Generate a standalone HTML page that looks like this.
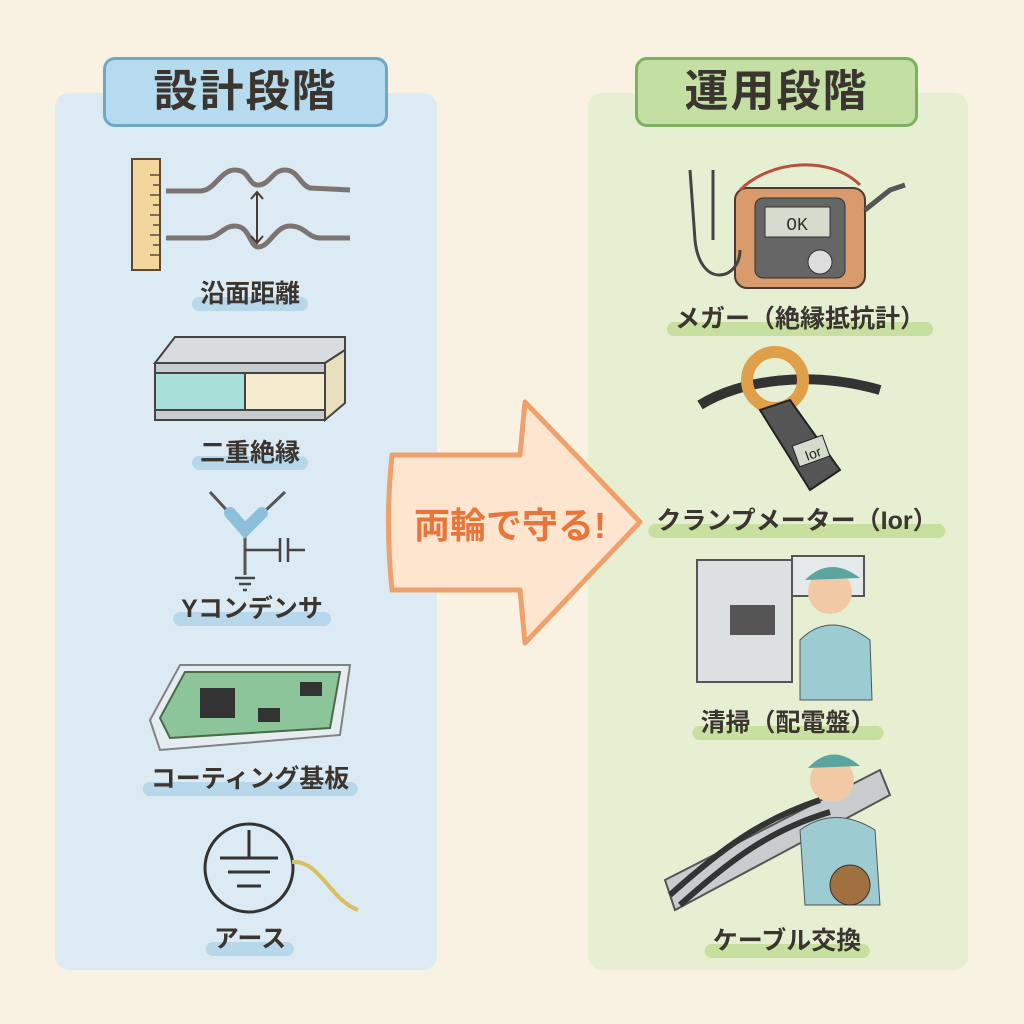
<!DOCTYPE html>
<html><head><meta charset="utf-8"><style>
body{margin:0;width:1024px;height:1024px;background:#f9f1e1;position:relative;overflow:hidden;font-family:"Liberation Sans","Noto Sans CJK JP",sans-serif;}
.panel{position:absolute;top:93px;height:877px;border-radius:14px;}
.hdr{position:absolute;top:57px;height:70px;border-radius:12px;border:3px solid;box-sizing:border-box;text-align:center;line-height:64px;font-size:44px;font-weight:bold;color:#3b3530;letter-spacing:2px;}
.lab{position:absolute;transform:translateX(-50%);font-size:25px;font-weight:bold;color:#3b3530;white-space:nowrap;padding:0 8px;line-height:30px;}
.lab:after{content:"";position:absolute;left:0;right:0;bottom:-2px;height:14px;border-radius:7px;z-index:-1;}
.b:after{background:#b7d7ea;}
.g:after{background:#c7df9f;}
svg{position:absolute;left:0;top:0;}
</style></head><body>
<div class="panel" style="left:55px;width:382px;background:#dcebf3"></div>
<div class="panel" style="left:588px;width:380px;background:#e7efd3"></div>
<div class="hdr" style="left:103px;width:285px;background:#b6daee;border-color:#6fa7c7">設計段階</div>
<div class="hdr" style="left:635px;width:283px;background:#c3dfa3;border-color:#7db061">運用段階</div>

<svg width="1024" height="1024" viewBox="0 0 1024 1024">
<!-- ruler -->
<rect x="132" y="159" width="28" height="111" fill="#f3d69c" stroke="#5a4a3a" stroke-width="2"/>
<g stroke="#5a4a3a" stroke-width="1.5"><line x1="150" y1="175" x2="160" y2="175"/><line x1="153" y1="185" x2="160" y2="185"/><line x1="150" y1="195" x2="160" y2="195"/><line x1="153" y1="205" x2="160" y2="205"/><line x1="150" y1="215" x2="160" y2="215"/><line x1="153" y1="225" x2="160" y2="225"/><line x1="150" y1="235" x2="160" y2="235"/><line x1="153" y1="245" x2="160" y2="245"/><line x1="150" y1="255" x2="160" y2="255"/></g>
<path d="M166 191 L200 191 C215 191 220 170 235 170 C250 170 248 185 258 185 C270 185 272 170 285 170 C298 170 300 185 310 188 L350 190" fill="none" stroke="#7c7470" stroke-width="5"/>
<path d="M166 238 L205 238 C220 238 222 226 235 226 C250 226 250 247 258 247 C270 247 275 226 290 226 C305 226 308 238 320 238 L350 238" fill="none" stroke="#7c7470" stroke-width="5"/>
<path d="M257 192 L257 243 M251 199 L257 192 263 199 M251 236 L257 243 263 236" stroke="#4a3a30" stroke-width="2" fill="none"/>
<!-- double insulation -->
<polygon points="155,363 175,337 345,337 345,350 325,363" fill="#d9dcdf" stroke="#444" stroke-width="2"/>
<rect x="155" y="363" width="170" height="10" fill="#c8cbce" stroke="#444" stroke-width="2"/>
<rect x="155" y="373" width="90" height="37" fill="#a9dfd9" stroke="#444" stroke-width="2"/>
<rect x="245" y="373" width="80" height="37" fill="#f5ecd0" stroke="#444" stroke-width="2"/>
<rect x="155" y="410" width="170" height="10" fill="#c8cbce" stroke="#444" stroke-width="2"/>
<polygon points="325,363 345,350 345,403 325,420" fill="#e8dfbf" stroke="#444" stroke-width="2"/>
<!-- Y capacitor -->
<path d="M210 492 L245 530 L285 492 M245 530 L245 575" stroke="#555" stroke-width="3" fill="none"/>
<path d="M230 513 L245 530 L262 513" stroke="#8cbfd9" stroke-width="12" fill="none" stroke-linecap="round"/>
<path d="M245 550 L280 550 M280 538 L280 562 M288 538 L288 562 M288 550 L305 550 M235 578 L255 578 M239 584 L251 584 M243 590 L247 590" stroke="#444" stroke-width="2.5" fill="none"/>
<!-- PCB -->
<polygon points="150,720 180,665 350,665 340,735 160,750" fill="#e6eef0" stroke="#777" stroke-width="2" opacity=".9"/>
<polygon points="160,718 185,672 340,672 330,728 170,738" fill="#8cc59a" stroke="#4a6a4a" stroke-width="2"/>
<rect x="200" y="688" width="35" height="30" fill="#333"/>
<rect x="258" y="708" width="22" height="14" fill="#333"/><rect x="300" y="682" width="22" height="14" fill="#333"/>
<!-- earth -->
<circle cx="249" cy="868" r="44" fill="none" stroke="#333" stroke-width="3"/>
<path d="M249 830 L249 858 M220 858 L278 858 M228 872 L270 872 M237 886 L261 886" stroke="#333" stroke-width="3"/>
<path d="M292 862 C320 860 330 900 358 910" stroke="#d8c060" stroke-width="4" fill="none"/>

<!-- arrow -->
<path d="M392 455 L520 455 L525 402 L640 522 L525 643 L520 590 L392 590 Q385 522 392 455 Z" fill="#fde5cf" stroke="#f0a06a" stroke-width="5" stroke-linejoin="round"/>
<text x="510" y="538" font-size="36" font-weight="bold" fill="#e8763a" text-anchor="middle" font-family="Liberation Sans, Noto Sans CJK JP, sans-serif">両輪で守る!</text>

<!-- megger -->
<rect x="735" y="188" width="130" height="100" rx="12" fill="#d99a6c" stroke="#4a3a30" stroke-width="2"/>
<rect x="755" y="198" width="90" height="80" rx="8" fill="#666" stroke="#333"/>
<rect x="765" y="207" width="65" height="30" fill="#d6dccd" stroke="#333"/>
<text x="797" y="230" font-size="18" text-anchor="middle" fill="#333" font-family="Liberation Mono, monospace">OK</text>
<circle cx="820" cy="262" r="12" fill="#ddd" stroke="#333"/>
<path d="M865 210 L890 190 L905 185" stroke="#555" stroke-width="5" fill="none"/>
<path d="M690 170 L695 240 C700 290 740 280 740 250 M713 170 L713 240" stroke="#444" stroke-width="3" fill="none"/>
<path d="M740 190 C770 160 830 155 860 185" stroke="#b85040" stroke-width="3" fill="none"/>
<!-- clamp meter -->
<path d="M700 405 C740 380 810 370 880 390" stroke="#333" stroke-width="10" fill="none"/>
<circle cx="775" cy="380" r="28" fill="none" stroke="#e0a04a" stroke-width="12"/>
<path d="M760 410 L790 400 L840 470 L810 490 Z" fill="#555" stroke="#222" stroke-width="2"/>
<rect x="795" y="440" width="32" height="22" fill="#d6dccd" stroke="#222" transform="rotate(-20 811 451)"/>
<text x="812" y="459" font-size="14" text-anchor="middle" fill="#222" transform="rotate(-20 811 451)">Ior</text>
<!-- panel cleaning -->
<rect x="697" y="560" width="95" height="122" fill="#dde0e1" stroke="#555" stroke-width="2"/>
<rect x="792" y="556" width="72" height="40" fill="#e6e9ea" stroke="#555" stroke-width="2"/>
<rect x="730" y="605" width="45" height="30" fill="#555"/>
<circle cx="830" cy="592" r="22" fill="#f1c9a4"/>
<path d="M805 580 Q830 555 860 578 Z" fill="#5aa5a0"/>
<path d="M800 640 Q830 610 870 640 L872 700 L800 700 Z" fill="#9ccbd2" stroke="#555"/>
<!-- cable -->
<polygon points="665,880 880,770 890,795 675,910" fill="#c9ccce" stroke="#555" stroke-width="2"/>
<path d="M670 895 C720 850 760 820 820 800 M680 905 C730 860 770 830 830 812" stroke="#333" stroke-width="6" fill="none"/>
<circle cx="832" cy="780" r="22" fill="#f1c9a4"/>
<path d="M808 768 Q832 742 860 766 Z" fill="#5aa5a0"/>
<path d="M800 830 Q835 805 875 830 L880 905 L805 905 Z" fill="#9ccbd2" stroke="#555"/>
<circle cx="850" cy="885" r="20" fill="#a07040" stroke="#333"/>
</svg>

<div class="lab b" style="left:250px;top:279px">沿面距離</div>
<div class="lab b" style="left:250px;top:438px">二重絶縁</div>
<div class="lab b" style="left:252px;top:594px">Yコンデンサ</div>
<div class="lab b" style="left:250px;top:764px">コーティング基板</div>
<div class="lab b" style="left:250px;top:924px">アース</div>
<div class="lab g" style="left:800px;top:304px">メガー（絶縁抵抗計）</div>
<div class="lab g" style="left:797px;top:506px">クランプメーター（Ior）</div>
<div class="lab g" style="left:788px;top:708px">清掃（配電盤）</div>
<div class="lab g" style="left:787px;top:926px">ケーブル交換</div>
</body></html>
